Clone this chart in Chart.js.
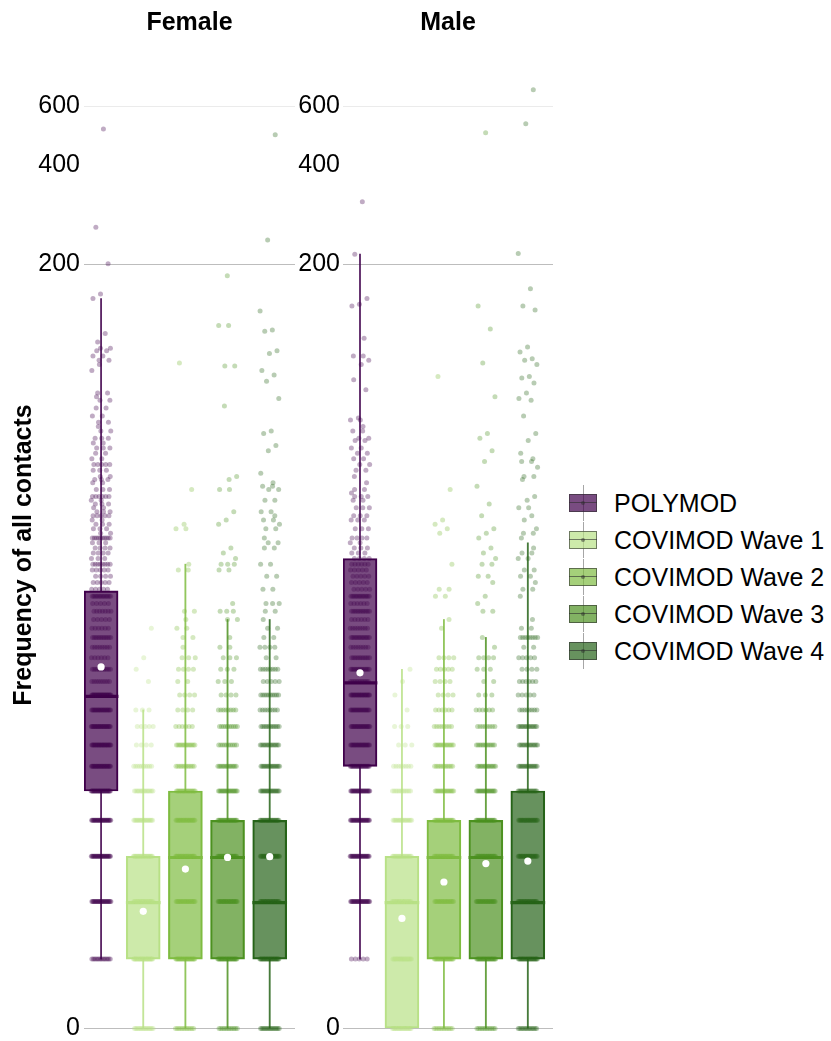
<!DOCTYPE html>
<html>
<head>
<meta charset="utf-8">
<script src="https://cdn.jsdelivr.net/npm/chart.js@4.4.1/dist/chart.umd.min.js"></script>
<style>
  html, body { margin: 0; padding: 0; background: #fff; overflow: hidden; }
  #wrap { position: relative; width: 831px; height: 1041px; font-family: "Liberation Sans", Arial, sans-serif; }
  #female { position: absolute; left: 0; top: 0; }
  #male { position: absolute; left: 295px; top: 0; }
  .item { position: absolute; left: 566px; height: 36px; width: 265px; }
  .whisker { position: absolute; left: 17px; top: 0; width: 1px; height: 36px; background: #a6a6a6; }
  .box { position: absolute; left: 3px; top: 9px; width: 26px; height: 16px; border: 1px solid rgba(45,45,45,0.6); }
  .mid { position: absolute; left: 3px; top: 17px; width: 28px; height: 1px; background: rgba(45,45,45,0.6); }
  .dot { position: absolute; left: 15px; top: 16px; width: 4px; height: 4px; border-radius: 50%; background: rgba(45,45,45,0.5); }
  .label { position: absolute; left: 48px; top: 0; height: 36px; line-height: 36px; font-size: 25px; color: #000; white-space: nowrap; }
</style>
</head>
<body>
<div id="wrap">
  <canvas id="female" width="299" height="1041"></canvas>
  <canvas id="male" width="262" height="1041"></canvas>
  <div id="legend"></div>
</div>
<script>
// ---- data ----
const studies = ['POLYMOD', 'COVIMOD Wave 1', 'COVIMOD Wave 2', 'COVIMOD Wave 3', 'COVIMOD Wave 4'];
const panelTitles = ['Female', 'Male'];
const yTickValues = [0, 200, 400, 600];
const yAxisTitle = 'Frequency of all contacts';

// box-plot summaries, one entry per study
const femaleLowerWhisker = [1, 0, 0, 0, 0];
const femaleQ1 = [5, 1, 1, 1, 1];
const femaleMedian = [10, 2, 3, 3, 2];
const femaleQ3 = [20.75, 3, 5, 4, 4];
const femaleUpperWhisker = [158, 9, 25, 17, 17];
const femaleMean = [12.2, 1.81, 2.69, 2.97, 2.99];

const maleLowerWhisker = [1, 0, 0, 0, 0];
const maleQ1 = [6, 0, 1, 1, 1];
const maleMedian = [11, 2, 3, 3, 2];
const maleQ3 = [26, 3, 4, 4, 5];
const maleUpperWhisker = [215, 12, 17, 15, 29];
const maleMean = [11.7, 1.68, 2.4, 2.82, 2.88];

// individual responses: [number of contacts, how many participants]
const femalePolymodPoints = [[512,1],[259,1],[201,1],[163,1],[158,1],[124,1],[117,1],[112,2],[110,2],[106,2],[103,2],[100,1],[96,1],
  [82,2],[80,1],[78,2],[74,2],[70,2],[67,2],[65,1],[63,2],[60,3],[58,2],[56,3],[54,2],[52,2],[50,5],[48,3],[46,2],[45,3],[44,2],
  [42,3],[40,6],[39,2],[38,3],[37,2],[36,3],[35,5],[34,2],[33,3],[32,3],[31,2],[30,10],[29,3],[28,4],[27,4],[26,3],[25,8],[24,5],
  [23,4],[22,5],[21,5],[20,14],[19,5],[18,7],[17,5],[16,6],[15,12],[14,8],[13,6],[12,12],[11,9],[10,30],[9,22],[8,26],[7,26],
  [6,26],[5,30],[4,28],[3,28],[2,26],[1,14]];
const femaleWave1Points = [[16,1],[13,1],[12,1],[11,1],[9,3],[8,5],[7,4],[6,10],[5,14],[4,18],[3,24],[2,28],[1,28],[0,16]];
const femaleWave2Points = [[101,1],[42,1],[33,1],[32,2],[25,1],[24,2],[18,2],[17,1],[16,2],[15,2],[14,1],[13,3],[12,4],[11,2],
  [10,4],[9,4],[8,6],[7,14],[6,12],[5,18],[4,22],[3,24],[2,24],[1,24],[0,12]];
const femaleWave3Points = [[185,1],[131,2],[99,2],[75,1],[46,1],[45,1],[42,2],[36,1],[34,1],[33,1],[28,1],[27,1],[26,1],[25,3],
  [24,2],[19,1],[18,3],[17,2],[15,1],[14,2],[13,3],[12,3],[11,3],[10,4],[9,8],[8,10],[7,10],[6,14],[5,18],[4,22],[3,24],[2,26],
  [1,26],[0,12]];
const femaleWave4Points = [[492,1],[237,1],[145,1],[127,1],[126,1],[110,1],[108,1],[96,1],[93,1],[89,1],[79,1],[63,1],[62,1],
  [57,1],[55,1],[47,1],[44,1],[43,2],[42,2],[39,2],[36,2],[35,1],[34,2],[33,1],[32,2],[30,1],[29,2],[28,2],[25,2],[23,2],[21,2],
  [19,3],[18,2],[17,1],[16,2],[15,2],[14,4],[13,2],[12,8],[11,5],[10,10],[9,8],[8,12],[7,14],[6,16],[5,18],[4,22],[3,26],[2,26],
  [1,26],[0,16]];

const malePolymodPoints = [[309,1],[215,1],[158,1],[152,1],[150,1],[120,1],[106,2],[103,1],[100,1],[90,1],[84,1],[69,1],[68,2],
  [65,1],[63,2],[60,2],[59,2],[56,2],[54,2],[52,2],[50,2],[48,2],[46,1],[44,1],[42,2],[41,1],[40,3],[39,2],[37,3],[35,3],[34,3],
  [32,3],[30,4],[29,2],[28,3],[27,3],[26,4],[25,6],[24,5],[23,5],[22,5],[21,5],[20,14],[19,6],[18,12],[17,6],[16,8],[15,14],
  [14,8],[13,12],[12,16],[11,12],[10,24],[9,20],[8,22],[7,22],[6,24],[5,26],[4,26],[3,26],[2,26],[1,5]];
const maleWave1Points = [[12,1],[11,1],[10,1],[9,1],[8,3],[7,3],[6,8],[5,12],[4,16],[3,20],[2,24],[1,20],[0,18]];
const maleWave2Points = [[92,1],[42,1],[34,1],[33,1],[32,1],[31,1],[25,1],[21,2],[20,2],[17,1],[16,1],[13,4],[12,5],[11,4],
  [10,4],[9,6],[8,8],[7,14],[6,12],[5,16],[4,20],[3,22],[2,22],[1,22],[0,12]];
const maleWave3Points = [[499,1],[150,1],[128,1],[101,1],[80,1],[62,1],[60,1],[55,1],[51,1],[43,1],[38,1],[35,1],[32,1],[31,1],
  [30,1],[28,1],[27,1],[26,1],[25,2],[23,2],[22,1],[20,1],[19,1],[18,2],[15,1],[14,1],[13,4],[12,3],[11,2],[10,3],[9,6],[8,8],
  [7,12],[6,14],[5,18],[4,22],[3,24],[2,24],[1,24],[0,12]];
const maleWave4Points = [[672,1],[531,1],[216,1],[169,1],[150,1],[146,1],[113,1],[109,1],[104,1],[103,1],[100,1],[92,1],[91,1],
  [88,1],[82,1],[79,1],[78,1],[70,1],[62,1],[59,1],[54,1],[52,1],[51,2],[49,1],[46,2],[45,1],[40,1],[39,1],[37,2],[35,1],[34,1],
  [32,1],[31,2],[30,1],[28,1],[27,2],[26,2],[24,2],[23,2],[22,1],[21,2],[20,1],[17,1],[16,2],[15,8],[14,2],[13,5],[12,4],[11,6],
  [10,5],[9,8],[8,14],[7,14],[6,16],[5,18],[4,22],[3,24],[2,24],[1,24],[0,14]];

// ---- styling ----
const FONT = '"Liberation Sans", Arial, sans-serif';
const studyColors = ['#40004b', '#b8e186', '#7fbc41', '#4d9221', '#276419'];
const JITTER = 0.235;           // horizontal spread of the points, in category units
const Y_MIN = -0.118;           // pseudo-log range shown by both panels
const Y_MAX = 755.3;

function rgba(hex, a) {
  const n = parseInt(hex.slice(1), 16);
  return `rgba(${(n >> 16) & 255},${(n >> 8) & 255},${n & 255},${a})`;
}
const fillColors = studyColors.map(c => rgba(c, 0.7));
const pointColors = studyColors.map(c => rgba(c, 0.33));
const whiskerColors = studyColors.map(c => rgba(c, 0.85));

// spread repeated answers sideways so each response stays visible
function spread(list, g) {
  const pts = [];
  list.forEach(([v, n], j) => {
    const shift = ((j + 1) * 0.618034 + g * 0.29) % 1;
    for (let k = 0; k < n; k++) {
      const u = (k + shift) / n;
      pts.push({ x: g + (2 * u - 1) * JITTER, y: v });
    }
  });
  return pts;
}

// pseudo-log axis: asinh(y / 2), linear near zero and logarithmic for large counts
const pseudoLog = v => Math.asinh(v / 2);
class PseudoLogScale extends Chart.LinearScale {
  determineDataLimits() {
    this.min = this.options.min;
    this.max = this.options.max;
  }
  buildTicks() {
    return yTickValues.map(v => ({ value: v }));
  }
  configure() {
    super.configure();
    this._tStart = pseudoLog(this.min);
    this._tRange = pseudoLog(this.max) - this._tStart;
  }
  getPixelForValue(value) {
    return this.getPixelForDecimal((pseudoLog(value) - this._tStart) / this._tRange);
  }
  getValueForPixel(pixel) {
    return 2 * Math.sinh(this._tStart + this.getDecimalForPixel(pixel) * this._tRange);
  }
}
PseudoLogScale.id = 'pseudoLog';
PseudoLogScale.defaults = { ticks: { callback: v => String(v) } };
Chart.register(PseudoLogScale);

function gridColor(v) {
  if (v === 600) return '#ebebeb';
  if (v === 400) return 'rgba(0,0,0,0)';
  return '#bdbdbd';
}

function drawPanel(canvasId, title, s, pointLists, withAxisTitle, axisWidth, tickPad) {
  const idx = studies.map((_, i) => i);
  const datasets = [
    // whiskers
    { type: 'bar', order: 5, grouped: false, barThickness: 1.2, borderWidth: 0,
      backgroundColor: whiskerColors, data: idx.map(i => ({ x: i, y: [s.lw[i], s.q1[i]] })) },
    { type: 'bar', order: 5, grouped: false, barThickness: 1.2, borderWidth: 0,
      backgroundColor: whiskerColors, data: idx.map(i => ({ x: i, y: [s.q3[i], s.uw[i]] })) },
    // boxes
    { type: 'bar', order: 4, grouped: false, barThickness: 34, borderWidth: 1.5, borderSkipped: false,
      backgroundColor: fillColors, borderColor: studyColors, data: idx.map(i => ({ x: i, y: [s.q1[i], s.q3[i]] })) },
    // medians: zero-length bars widened to a thick stroke
    { type: 'bar', order: 3, grouped: false, barThickness: 34, borderWidth: 0, minBarLength: 2.5,
      backgroundColor: studyColors, data: idx.map(i => ({ x: i, y: [s.med[i], s.med[i]] })) }
  ];
  pointLists.forEach((list, g) => datasets.push({
    type: 'scatter', order: 2, pointRadius: 2.5, pointHoverRadius: 2.5, pointBorderWidth: 0,
    pointBackgroundColor: pointColors[g], data: spread(list, g)
  }));
  datasets.push({ type: 'scatter', order: 1, pointRadius: 3.6, pointHoverRadius: 3.6, pointBorderWidth: 0,
    pointBackgroundColor: '#ffffff', data: idx.map(i => ({ x: i, y: s.mean[i] })) });

  new Chart(document.getElementById(canvasId), {
    type: 'bar',
    data: { datasets },
    options: {
      responsive: false, animation: false, events: [],
      layout: { padding: { top: 0, left: 0, right: 4, bottom: 4 } },
      plugins: {
        legend: { display: false },
        tooltip: { enabled: false },
        title: { display: true, text: title, fullSize: false, color: '#000',
          font: { family: FONT, size: 25, weight: 'bold' }, padding: { top: 8, bottom: 35 } }
      },
      scales: {
        x: { type: 'linear', display: false, offset: false, min: -0.405, max: 4.6 },
        y: {
          type: 'pseudoLog', position: 'left', min: Y_MIN, max: Y_MAX,
          grid: { color: ctx => gridColor(ctx.tick.value), drawTicks: false, lineWidth: 1 },
          border: { display: false },
          ticks: { color: '#000', font: { family: FONT, size: 25 }, padding: tickPad, autoSkip: false,
            callback: v => String(v) },
          title: { display: withAxisTitle, text: yAxisTitle, color: '#000',
            font: { family: FONT, size: 25, weight: 'bold' }, padding: { top: 9, bottom: 0 } },
          afterFit: scale => { scale.width = axisWidth; scale.paddingTop = 0; scale.paddingBottom = 0; }
        }
      }
    }
  });
}

drawPanel('female', panelTitles[0],
  { lw: femaleLowerWhisker, q1: femaleQ1, med: femaleMedian, q3: femaleQ3, uw: femaleUpperWhisker, mean: femaleMean },
  [femalePolymodPoints, femaleWave1Points, femaleWave2Points, femaleWave3Points, femaleWave4Points],
  true, 84, 4);
drawPanel('male', panelTitles[1],
  { lw: maleLowerWhisker, q1: maleQ1, med: maleMedian, q3: maleQ3, uw: maleUpperWhisker, mean: maleMean },
  [malePolymodPoints, maleWave1Points, maleWave2Points, maleWave3Points, maleWave4Points],
  false, 48, 3);

// legend with box-plot keys
const legend = document.getElementById('legend');
studies.forEach((name, i) => {
  const item = document.createElement('div');
  item.className = 'item';
  item.style.top = (485 + 37 * i) + 'px';
  item.innerHTML = '<div class="whisker"></div>' +
    `<div class="box" style="background:${fillColors[i]}"></div>` +
    '<div class="mid"></div><div class="dot"></div>' +
    `<div class="label"></div>`;
  item.querySelector('.label').textContent = name;
  legend.appendChild(item);
});
</script>
</body>
</html>
